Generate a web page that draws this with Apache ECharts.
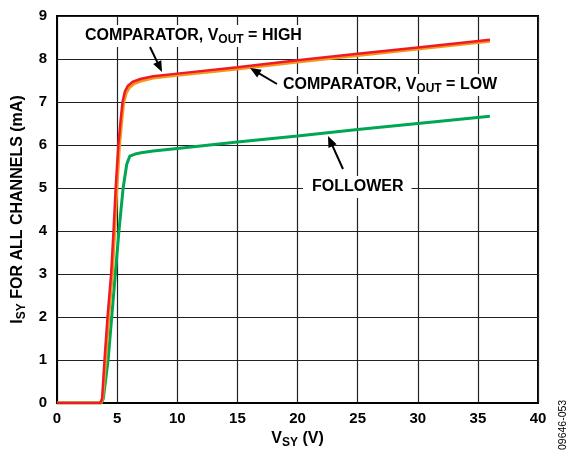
<!DOCTYPE html>
<html>
<head>
<meta charset="utf-8">
<script src="https://cdn.jsdelivr.net/npm/echarts@6/dist/echarts.min.js"></script>
<style>
html,body{margin:0;padding:0;background:#fff;}
#chart{width:567px;height:452px;}
</style>
</head>
<body>
<div id="chart"></div>
<script>
// X tick labels / Y tick labels
const xTicks = [0, 5, 10, 15, 20, 25, 30, 35, 40];
const yTicks = [0, 1, 2, 3, 4, 5, 6, 7, 8, 9];

// COMPARATOR, VOUT = HIGH (red)
const highV = [0, 3.6, 3.75, 3.95, 4.2, 4.5, 4.7, 4.88, 5.1, 5.3, 5.45, 5.65, 5.9, 6.3, 7, 8, 10, 15, 20, 25, 30, 36];
const highI = [0, 0, 0.1, 1.0, 2.0, 3.0, 4.0, 5.0, 6.0, 6.6, 7.0, 7.25, 7.38, 7.47, 7.54, 7.6, 7.66, 7.81, 7.97, 8.12, 8.27, 8.45];

// COMPARATOR, VOUT = LOW (orange)
const lowV = [0, 3.65, 3.8, 4.05, 4.3, 4.6, 4.8, 4.98, 5.2, 5.4, 5.55, 5.75, 6.0, 6.4, 7, 8, 10, 15, 20, 25, 30, 36];
const lowI = [0, 0, 0.1, 1.0, 2.0, 3.0, 4.0, 5.0, 6.0, 6.6, 7.0, 7.2, 7.33, 7.42, 7.49, 7.56, 7.62, 7.77, 7.93, 8.08, 8.23, 8.41];

// FOLLOWER (green)
const follV = [0, 3.7, 3.85, 4.25, 4.55, 4.85, 5.15, 5.5, 5.8, 6.05, 6.5, 7, 8, 10, 15, 20, 25, 30, 36];
const follI = [0, 0, 0.1, 1.0, 2.0, 3.0, 4.0, 5.0, 5.55, 5.74, 5.79, 5.82, 5.86, 5.92, 6.07, 6.21, 6.36, 6.5, 6.67];

function pairs(xs, ys) { return xs.map((x, i) => [x, ys[i]]); }

const FONT = '"Liberation Sans", Arial, Helvetica, sans-serif';
const chart = echarts.init(document.getElementById('chart'), null, {renderer: 'canvas'});

function arrow(x1, y1, x2, y2) {
  const dx = x2 - x1, dy = y2 - y1;
  const len = Math.sqrt(dx * dx + dy * dy);
  const ux = dx / len, uy = dy / len;
  const hl = 11, hw = 4.5;
  const bx = x2 - ux * hl, by = y2 - uy * hl;
  return [
    {type: 'line', z: 100, shape: {x1: x1, y1: y1, x2: bx + ux * 2, y2: by + uy * 2}, style: {stroke: '#000', lineWidth: 2}},
    {type: 'polygon', z: 100, shape: {points: [[x2, y2], [bx - uy * hw, by + ux * hw], [bx + uy * hw, by - ux * hw]]}, style: {fill: '#000'}}
  ];
}

const labelRich = {
  m: {fontFamily: FONT, fontWeight: 'bold', fontSize: 16, color: '#000'},
  s: {fontFamily: FONT, fontWeight: 'bold', fontSize: 12, color: '#000', padding: [8, 0, 0, 0]}
};

const graphics = [].concat(
  arrow(150, 47, 162, 72),
  arrow(277, 84, 250, 68),
  arrow(343, 169, 328, 136),
  [
    {type: 'text', z: 90, left: 82, top: 25,
      style: {text: '{m|COMPARATOR, V}{s|OUT}{m| = HIGH}', rich: labelRich, backgroundColor: '#fff', padding: [1, 3, 1, 3]}},
    {type: 'text', z: 90, left: 280, top: 74,
      style: {text: '{m|COMPARATOR, V}{s|OUT}{m| = LOW}', rich: labelRich, backgroundColor: '#fff', padding: [1, 3, 1, 3]}},
    {type: 'text', z: 90, left: 303, top: 176,
      style: {text: 'FOLLOWER', fontFamily: FONT, fontWeight: 'bold', fontSize: 16, fill: '#000', backgroundColor: '#fff', padding: [3, 8, 3, 9]}},
    {type: 'text', z: 90, x: 558, y: 450, rotation: Math.PI / 2,
      style: {text: '09646-053', fontFamily: FONT, fontSize: 10.5, fill: '#000'}}
  ]
);

const subRich = {
  m: {fontFamily: FONT, fontWeight: 'bold', fontSize: 16, color: '#000'},
  s: {fontFamily: FONT, fontWeight: 'bold', fontSize: 12, color: '#000', padding: [8, 0, 0, 0]}
};

const option = {
  backgroundColor: '#fff',
  animation: false,
  grid: {left: 57, right: 29, top: 16, bottom: 49, show: true, borderColor: '#000', borderWidth: 2,
    backgroundColor: 'transparent', containLabel: false, outerBoundsMode: 'none'},
  xAxis: {
    type: 'value', min: xTicks[0], max: xTicks[xTicks.length - 1], interval: 5,
    name: '{m|V}{s|SY}{m| (V)}', nameLocation: 'middle', nameGap: 26,
    nameTextStyle: {rich: subRich},
    axisLine: {show: true, lineStyle: {color: '#000', width: 2}},
    axisTick: {show: false},
    axisLabel: {fontFamily: FONT, fontWeight: 'bold', fontSize: 15, color: '#000', margin: 8},
    splitLine: {show: true, lineStyle: {color: '#222', width: 1.2}}
  },
  yAxis: {
    type: 'value', min: yTicks[0], max: yTicks[yTicks.length - 1], interval: 1,
    name: '{m|I}{s|SY}{m| FOR ALL CHANNELS (mA)}', nameLocation: 'middle', nameGap: 25,
    nameTextStyle: {rich: subRich},
    axisLine: {show: true, lineStyle: {color: '#000', width: 2}},
    axisTick: {show: false},
    axisLabel: {fontFamily: FONT, fontWeight: 'bold', fontSize: 15, color: '#000', margin: 10},
    splitLine: {show: true, lineStyle: {color: '#222', width: 1.2}}
  },
  series: [
    {name: 'FOLLOWER', type: 'line', data: pairs(follV, follI), showSymbol: false, symbol: 'none',
      lineStyle: {color: '#00a651', width: 3}, z: 3},
    {name: 'COMPARATOR LOW', type: 'line', data: pairs(lowV, lowI), showSymbol: false, symbol: 'none',
      lineStyle: {color: '#f7941d', width: 3}, z: 4},
    {name: 'COMPARATOR HIGH', type: 'line', data: pairs(highV, highI), showSymbol: false, symbol: 'none',
      lineStyle: {color: '#ed1c24', width: 2.5}, z: 5}
  ],
  graphic: graphics
};
chart.setOption(option);
</script>
</body>
</html>
